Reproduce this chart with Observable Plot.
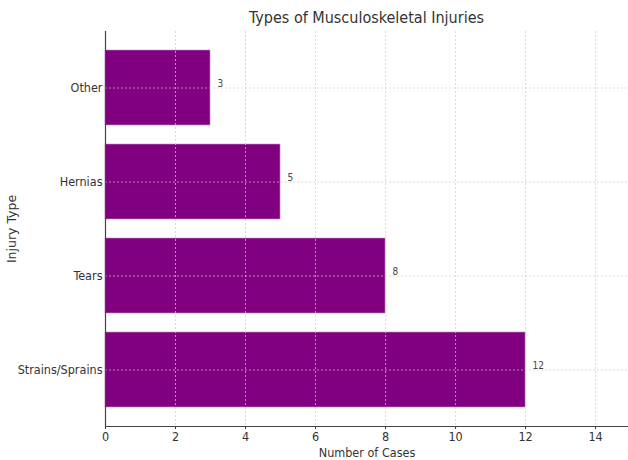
<!DOCTYPE html>
<html><head><meta charset="utf-8">
<script src="https://cdn.jsdelivr.net/npm/d3@7"></script>
<script src="https://cdn.jsdelivr.net/npm/@observablehq/plot@0.6"></script>
<style>
body{margin:0;background:#fff;}
#wrap{position:relative;width:628px;height:460px;font-family:"DejaVu Sans Condensed","DejaVu Sans",sans-serif;}
#title{position:absolute;top:8px;left:105px;width:523px;text-align:center;font-size:16px;color:#333;}
#wrap svg [aria-label="y-axis label"] text{font-family:"DejaVu Sans",sans-serif;font-size:12.5px;}
</style></head>
<body><div id="wrap"><div id="title">Types of Musculoskeletal Injuries</div></div>
<script>
const categories = ["Other", "Hernias", "Tears", "Strains/Sprains"];
const cases = [3, 5, 8, 12];
const xTicks = [0, 2, 4, 6, 8, 10, 12, 14];

const data = categories.map((c, i) => ({type: c, n: cases[i]}));

const chart = Plot.plot({
  width: 628,
  height: 460,
  marginTop: 31,
  marginBottom: 34,
  marginLeft: 105,
  marginRight: 0,
  style: {fontFamily: '"DejaVu Sans Condensed","DejaVu Sans",sans-serif', fontSize: "12px", color: "#333", background: "transparent"},
  x: {domain: [0, 14.94], ticks: xTicks, label: "Number of Cases", labelAnchor: "center", labelArrow: "none"},
  y: {domain: categories, paddingInner: 0.2, paddingOuter: 0.19, label: "Injury Type", labelAnchor: "center", labelArrow: "none"},
  marks: [
    Plot.barX(data, {x: "n", y: "type", fill: "#800080", stroke: "#c78fc7", strokeWidth: 0.6}),
    Plot.gridX(xTicks, {stroke: "#ccc", strokeOpacity: 0.7, strokeDasharray: "2,2"}),
    Plot.gridY(categories, {stroke: "#ccc", strokeOpacity: 0.7, strokeDasharray: "2,2"}),
    Plot.axisX(xTicks, {tickSize: 3, tickPadding: 3, fontSize: 12.5, label: "Number of Cases", labelOffset: 30, labelAnchor: "center", labelArrow: "none"}),
    Plot.axisY({tickSize: 0, tickPadding: 3, fontSize: 12.5, label: "Injury Type", labelOffset: 98, labelAnchor: "center", labelArrow: "none"}),
    Plot.ruleX([0], {stroke: "#444", strokeWidth: 1.2}),
    Plot.frame({anchor: "bottom", stroke: "#444", strokeWidth: 1.2}),
    Plot.text(data, {x: "n", y: "type", text: d => String(d.n), textAnchor: "start", dx: 7, dy: -4, fontSize: 10, fill: "#444"})
  ]
});
document.getElementById("wrap").appendChild(chart);
</script>
</body></html>
